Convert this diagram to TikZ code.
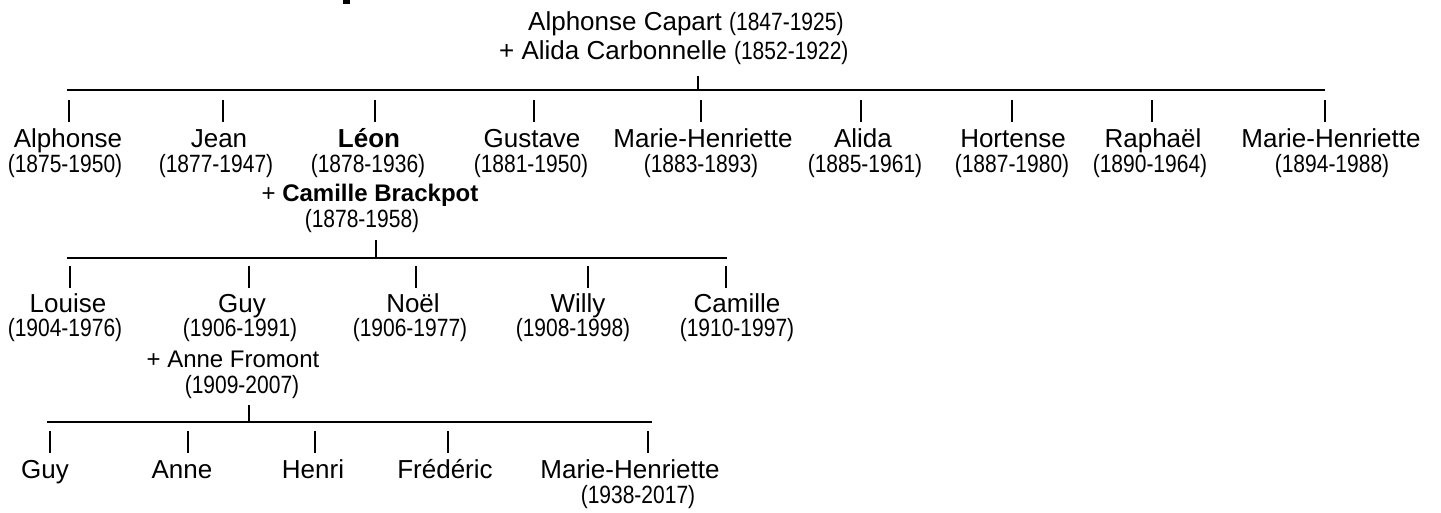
\documentclass[tikz,border=0pt]{standalone}
\usepackage{fontspec}
\setmainfont{Liberation Sans}
\newfontfamily\narrowf{Liberation Sans}[FakeStretch=0.84]
\newcommand\dtfont{\narrowf\fontsize{25}{25}\selectfont}
\begin{document}
\begin{tikzpicture}[x=1pt,y=-1pt,
  nm/.style={font=\fontsize{26}{26}\selectfont, anchor=base, inner sep=0pt},
  sp/.style={font=\fontsize{24}{24}\selectfont, anchor=base, inner sep=0pt},
  dt/.style={font=\dtfont, anchor=base, inner sep=0pt},
  ln/.style={line width=2pt}]
\useasboundingbox (0,0) rectangle (1441,512);
% clipped glyph at the top edge
\fill (343,0) rectangle (350,4);
% top couple
\node[nm, anchor=base west] (top1) at (528,30) {Alphonse Capart {\dtfont (1847-1925)}};
\node[nm, anchor=base west] (top2) at (499,59) {+ Alida Carbonnelle {\dtfont (1852-1922)}};
% line 1
\coordinate (L1a) at (67,90); \coordinate (L1b) at (1325,90);
\coordinate (S1a) at (698,76); \coordinate (S1b) at (698,91);
\draw[ln] (L1a) -- (L1b);
\draw[ln] (S1a) -- (S1b);
\foreach \i/\x in {1/69,2/223,3/375,4/534,5/701,6/861,7/1012,8/1152,9/1325}{
  \coordinate (ua\i) at (\x,100); \coordinate (va\i) at (\x,122);
  \draw[ln] (ua\i) -- (va\i);
}
% row 1
\node[nm] (a1) at (68,147) {Alphonse};        \node[dt] (a1d) at (65,172) {(1875-1950)};
\node[nm] (a2) at (219,147) {Jean};           \node[dt] (a2d) at (216,172) {(1877-1947)};
\node[nm] (a3) at (369,147) {\bfseries Léon}; \node[dt] (a3d) at (368,172) {(1878-1936)};
\node[nm] (a4) at (532,147) {Gustave};        \node[dt] (a4d) at (531,172) {(1881-1950)};
\node[nm] (a5) at (703,147) {Marie-Henriette};\node[dt] (a5d) at (701,172) {(1883-1893)};
\node[nm] (a6) at (863,147) {Alida};          \node[dt] (a6d) at (865,172) {(1885-1961)};
\node[nm] (a7) at (1013,147) {Hortense};      \node[dt] (a7d) at (1012,172) {(1887-1980)};
\node[nm] (a8) at (1153,147) {Raphaël};       \node[dt] (a8d) at (1150,172) {(1890-1964)};
\node[nm] (a9) at (1331,147) {Marie-Henriette};\node[dt] (a9d) at (1332,172) {(1894-1988)};
\node[sp] (a3s) at (370,201) {+ \bfseries Camille Brackpot};
\node[dt] (a3sd) at (362,227) {(1878-1958)};
% line 2
\coordinate (L2a) at (67,258); \coordinate (L2b) at (727,258);
\coordinate (S2a) at (376,240); \coordinate (S2b) at (376,259);
\draw[ln] (L2a) -- (L2b);
\draw[ln] (S2a) -- (S2b);
\foreach \i/\x in {1/70,2/249,3/416,4/588,5/726}{
  \coordinate (ub\i) at (\x,266); \coordinate (vb\i) at (\x,288);
  \draw[ln] (ub\i) -- (vb\i);
}
% row 2
\node[nm] (b1) at (68,312) {Louise};  \node[dt] (b1d) at (65,336) {(1904-1976)};
\node[nm] (b2) at (242,312) {Guy};    \node[dt] (b2d) at (240,336) {(1906-1991)};
\node[nm] (b3) at (413,312) {Noël};   \node[dt] (b3d) at (410,336) {(1906-1977)};
\node[nm] (b4) at (578,312) {Willy};  \node[dt] (b4d) at (573,336) {(1908-1998)};
\node[nm] (b5) at (737,312) {Camille};\node[dt] (b5d) at (737,336) {(1910-1997)};
\node[sp] (b2s) at (233,367) {+ Anne Fromont};
\node[dt] (b2sd) at (242,393) {(1909-2007)};
% line 3
\coordinate (L3a) at (47,422); \coordinate (L3b) at (652,422);
\coordinate (S3a) at (249,405); \coordinate (S3b) at (249,423);
\draw[ln] (L3a) -- (L3b);
\draw[ln] (S3a) -- (S3b);
\foreach \i/\x in {1/50,2/188,3/315,4/448,5/648}{
  \coordinate (uc\i) at (\x,431); \coordinate (vc\i) at (\x,453);
  \draw[ln] (uc\i) -- (vc\i);
}
% row 3
\node[nm] (c1) at (45,478) {Guy};
\node[nm] (c2) at (182,478) {Anne};
\node[nm] (c3) at (313,478) {Henri};
\node[nm] (c4) at (445,478) {Frédéric};
\node[nm] (c5) at (630,478) {Marie-Henriette};
\node[dt] (c5d) at (638,503) {(1938-2017)};
\end{tikzpicture}
\end{document}
